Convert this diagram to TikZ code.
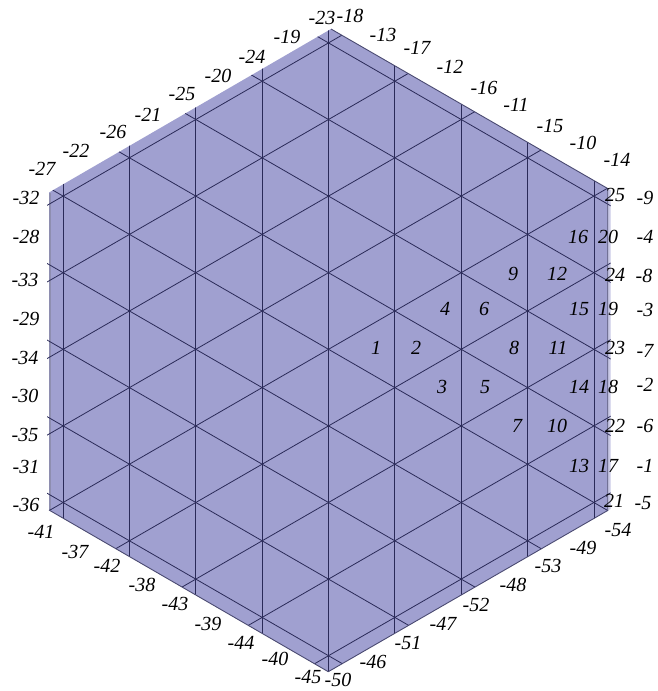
\documentclass[tikz,border=0pt]{standalone}
\usepackage{fontspec}
\setmainfont{Liberation Serif}
\definecolor{hexfill}{RGB}{160,160,208}
\definecolor{hexlight}{RGB}{202,202,230}
\definecolor{hexgrey}{RGB}{142,142,176}
\definecolor{gridline}{RGB}{42,42,88}
\tikzset{
  gridrule/.style={draw=gridline,line width=0.8pt},
  edgerule/.style={draw=gridline!85!white,line width=0.9pt},
  lab/.style={inner sep=0pt,font=\fontsize{20}{20}\selectfont\itshape}
}
\begin{document}
\begin{tikzpicture}[x=1pt,y=-1pt]
\useasboundingbox (0,0) rectangle (657,691);
% hexagon faces
\fill[hexlight] (607.7,188.5) -- (610.7,190.2) -- (610.7,509) -- (607.7,510.5) -- cycle;
\fill[hexfill] (331,29) -- (607.7,188.5) -- (607.7,510.5) -- (328.3,671.7) -- (49,510) -- (49,192.5) -- cycle;
\fill[hexgrey] (48.5,192.5) rectangle (50.8,510);
% grid
\begin{scope}
\clip (331,29) -- (610.7,190.2) -- (610.7,509) -- (328.3,671.7) -- (47,508.5) -- (47,193.6) -- cycle;
\foreach \k in {-4,...,4}
  \draw[gridrule] ({328.5+66.35*\k},20) -- ({328.5+66.35*\k},680);
\foreach \j in {-7,...,7}{
  \draw[gridrule] (20,{349.3+76.6*\j-0.5773*308.5}) -- (640,{349.3+76.6*\j+0.5773*311.5});
  \draw[gridrule] (20,{349.3+76.6*\j+0.5773*308.5}) -- (640,{349.3+76.6*\j-0.5773*311.5});
}
\end{scope}
% visible edges
\draw[edgerule] (331,29) -- (607.7,188.5) -- (607.7,510.5) -- (328.3,671.7) -- (49,510);
% labels
\foreach \t/\x/\y [count=\n] in {
 1/376/348, 2/416/348, 3/442/387, 4/445/309, 5/485/387, 6/484/309, 7/517/426, 8/514/348, 9/513/274,
 10/557/426, 11/558/348, 12/557/274, 13/579/466, 14/579/387, 15/579/309, 16/578/237,
 17/608/466, 18/608/387, 19/608/309, 20/608/237, 21/614/501, 22/615/426, 23/615/348, 24/615/275, 25/615/195,
 -9/645/198, -4/645/237, -8/644/276, -3/645/310, -7/645/351, -2/645/385, -6/645/426, -1/645/466, -5/643/503,
 -14/617/160, -10/583/143, -15/550/126, -11/516/105, -16/484/88, -12/450/67, -17/417/48, -13/383/35, -18/350/16,
 -23/322/18, -19/287/37, -24/252/57, -20/218/76, -25/182/94, -21/148/115, -26/113/132, -22/76/151, -27/42/169,
 -32/26/198, -28/26/237, -33/25/280, -29/26/319, -34/25/358, -30/25/396, -35/25/435, -31/26/467, -36/26/505,
 -41/41/532, -37/75/552, -42/107/566, -38/142/585, -43/175/604, -39/208/624, -44/241/643, -40/275/659, -45/308/677,
 -50/338/680, -46/373/662, -51/408/643, -47/443/624, -52/476/605, -48/513/585, -53/548/566, -49/583/548, -54/618/530}
  \node[lab] (lab\n) at (\x,\y) {\t};
\end{tikzpicture}
\end{document}
